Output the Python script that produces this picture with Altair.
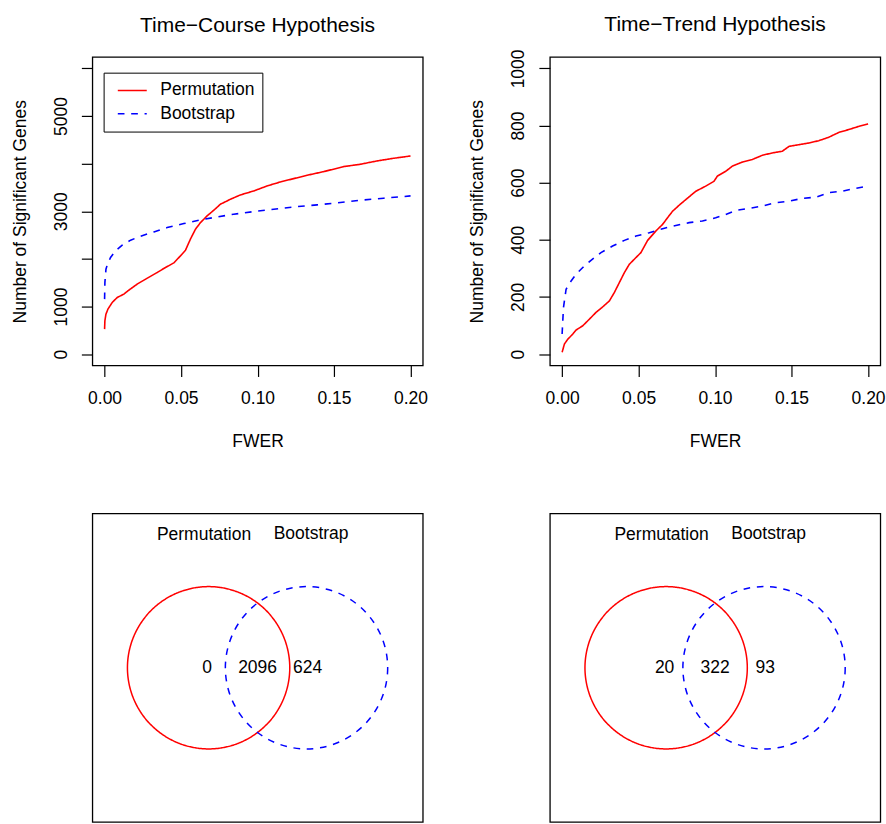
import altair as alt
import pandas as pd

FONT = "Liberation Sans"
SERIES = ["Permutation", "Bootstrap"]
COLORS = ["#FF0000", "#0000FF"]
DASHES = [[1, 0], [6.7, 6.7]]

# ---- Time-Course Hypothesis (left) ----
tc_perm_fwer = [0, 0.0002, 0.0009, 0.0022, 0.005, 0.0083, 0.0126, 0.0159, 0.0213, 0.0279,
                0.0344, 0.0387, 0.0453, 0.0496, 0.0529, 0.0561, 0.0594, 0.0627, 0.067, 0.0714,
                0.0757, 0.0823, 0.0888, 0.0975, 0.1062, 0.1149, 0.1236, 0.1323, 0.1432, 0.1562,
                0.1671, 0.178, 0.1889, 0.2]
tc_perm_genes = [524, 699, 839, 944, 1084, 1189, 1259, 1343, 1469, 1594,
                 1713, 1797, 1916, 2063, 2182, 2413, 2622, 2762, 2902, 3021,
                 3147, 3252, 3343, 3426, 3531, 3615, 3685, 3755, 3832, 3937,
                 3986, 4056, 4112, 4161]
tc_boot_fwer = [0, 0.0002, 0.0009, 0.0018, 0.0039, 0.0072, 0.0115, 0.017, 0.0235, 0.0322,
                0.0409, 0.0518, 0.0627, 0.0736, 0.0844, 0.0975, 0.1106, 0.1236, 0.1389, 0.1541,
                0.1671, 0.1824, 0.2]
tc_boot_genes = [1154, 1500, 1783, 1880, 2028, 2168, 2287, 2392, 2475, 2566,
                 2657, 2741, 2818, 2881, 2937, 2993, 3042, 3091, 3133, 3182,
                 3231, 3273, 3322]

# ---- Time-Trend Hypothesis (right) ----
tt_perm_fwer = [0, 0.0015, 0.0037, 0.007, 0.0091, 0.0135, 0.0178, 0.0222, 0.0265, 0.0309,
                0.0341, 0.0374, 0.0407, 0.0439, 0.0483, 0.0515, 0.0559, 0.0613, 0.0657, 0.0689,
                0.0722, 0.0765, 0.0809, 0.0874, 0.0939, 0.0993, 0.1015, 0.107, 0.1113, 0.1178,
                0.1243, 0.1309, 0.1374, 0.1439, 0.1483, 0.1548, 0.1613, 0.1678, 0.1743, 0.1809,
                0.1874, 0.1939, 0.2]
tt_perm_genes = [6, 35, 52, 70, 84, 99, 122, 146, 165, 186,
                 215, 250, 285, 314, 338, 355, 398, 431, 454, 477,
                 500, 521, 541, 570, 588, 605, 623, 640, 658, 672,
                 681, 696, 704, 710, 727, 733, 739, 747, 759, 776,
                 786, 797, 806]
tt_boot_fwer = [0, 0.0009, 0.0026, 0.0059, 0.0091, 0.0135, 0.0189, 0.0254, 0.033, 0.0407,
                0.0483, 0.057, 0.0657, 0.0743, 0.083, 0.0917, 0.1004, 0.107, 0.1135, 0.1222,
                0.1309, 0.1396, 0.1483, 0.157, 0.1657, 0.1743, 0.183, 0.1917, 0.2]
tt_boot_genes = [70, 163, 227, 256, 279, 303, 328, 355, 378, 398,
                 413, 425, 439, 450, 460, 466, 477, 489, 503, 510,
                 518, 530, 535, 545, 549, 565, 570, 580, 588]

x_ticks = [0, 0.05, 0.10, 0.15, 0.20]
tc_y_ticks = [0, 1000, 2000, 3000, 4000, 5000, 6000]
tc_hidden_labels = [2000, 4000, 6000]
tt_y_ticks = [0, 200, 400, 600, 800, 1000]

# ---- Venn diagrams ----
venn_circle_x = [-1.28, 1.28]
venn_circle_y = [0, 0]
venn_label_x = [-1.40, 1.40]
venn_label_y = [3.71, 3.75]
venn_count_x = [-1.32, 0.0, 1.31]
venn_count_y = [0, 0, 0]
tc_counts = ["0", "2096", "624"]
tt_counts = ["20", "322", "93"]


def long_df(px, py, bx, by):
    return pd.concat([
        pd.DataFrame({"fwer": px, "genes": py, "method": "Permutation"}),
        pd.DataFrame({"fwer": bx, "genes": by, "method": "Bootstrap"}),
    ], ignore_index=True)


def title_params(text, offset):
    return alt.TitleParams(text=text, font=FONT, fontSize=21, fontWeight="normal",
                           color="black", anchor="middle", frame="group",
                           baseline="alphabetic", offset=offset)


def curve_panel(df, title, ydom, yticks, hidden, show_legend, title_offset):
    if show_legend:
        leg = alt.Legend(orient="none", legendX=11.3, legendY=15.7, title=None,
                         symbolType="stroke", symbolSize=841, symbolStrokeWidth=1.5,
                         labelFont=FONT, labelFontSize=17.5, labelColor="black",
                         padding=7, strokeColor="black", fillColor="white",
                         labelOffset=12.5, symbolOffset=6.2, rowPadding=1.3,
                         clipHeight=21.5)
    else:
        leg = None
    if hidden:
        lab_expr = "indexof(" + str(hidden) + ", datum.value) >= 0 ? '' : datum.label"
    else:
        lab_expr = "datum.label"
    x = alt.X("fwer:Q",
              scale=alt.Scale(domain=[-0.008, 0.208], nice=False, zero=False),
              axis=alt.Axis(values=x_ticks, format=".2f", title="FWER",
                            labelBaseline="alphabetic", labelAlign="center",
                            labelPadding=27.3, minExtent=42, maxExtent=42,
                            titlePadding=39, titleBaseline="alphabetic"))
    y = alt.Y("genes:Q",
              scale=alt.Scale(domain=ydom, nice=False, zero=False),
              axis=alt.Axis(values=yticks, format="d", title="Number of Significant Genes",
                            labelExpr=lab_expr, labelAngle=270, labelAlign="center",
                            labelBaseline="alphabetic", labelPadding=15,
                            minExtent=40, maxExtent=40, titlePadding=27,
                            titleBaseline="alphabetic"))
    color = alt.Color("method:N", scale=alt.Scale(domain=SERIES, range=COLORS),
                      sort=SERIES, legend=leg)
    dash = alt.StrokeDash("method:N", scale=alt.Scale(domain=SERIES, range=DASHES),
                          sort=SERIES, legend=leg)
    return alt.Chart(df).mark_line(strokeWidth=1.6).encode(
        x=x, y=y, color=color, strokeDash=dash
    ).properties(width=331, height=309, title=title_params(title, title_offset))


def venn_panel(counts):
    circ = pd.DataFrame({"set": SERIES, "cx": venn_circle_x, "cy": venn_circle_y})
    lab = pd.DataFrame({"set": SERIES, "lx": venn_label_x, "ly": venn_label_y})
    cnt = pd.DataFrame({"nx": venn_count_x, "ny": venn_count_y, "n": counts})
    xs = alt.Scale(domain=[-4.32, 4.32], nice=False, zero=False)
    ys = alt.Scale(domain=[-4.32, 4.32], nice=False, zero=False)
    circles = alt.Chart(circ).mark_point(shape="circle", filled=False, size=26440,
                                         strokeWidth=1.5, opacity=1).encode(
        x=alt.X("cx:Q", scale=xs, axis=None),
        y=alt.Y("cy:Q", scale=ys, axis=None),
        color=alt.Color("set:N", scale=alt.Scale(domain=SERIES, range=COLORS), legend=None),
        strokeDash=alt.StrokeDash("set:N", scale=alt.Scale(domain=SERIES, range=DASHES),
                                  legend=None),
    )
    labels = alt.Chart(lab).mark_text(font=FONT, fontSize=17.5, color="black",
                                      baseline="middle", align="center").encode(
        x=alt.X("lx:Q", scale=xs, axis=None),
        y=alt.Y("ly:Q", scale=ys, axis=None),
        text="set:N",
    )
    nums = alt.Chart(cnt).mark_text(font=FONT, fontSize=17.5, color="black",
                                    baseline="middle", align="center").encode(
        x=alt.X("nx:Q", scale=xs, axis=None),
        y=alt.Y("ny:Q", scale=ys, axis=None),
        text="n:N",
    )
    return alt.layer(circles, labels, nums).properties(width=331, height=309)


tl = curve_panel(long_df(tc_perm_fwer, tc_perm_genes, tc_boot_fwer, tc_boot_genes),
                 "Time\u2212Course Hypothesis", [-240, 6240], tc_y_ticks, tc_hidden_labels,
                 True, 4.5)
tr = curve_panel(long_df(tt_perm_fwer, tt_perm_genes, tt_boot_fwer, tt_boot_genes),
                 "Time\u2212Trend Hypothesis", [-40, 1040], tt_y_ticks, [],
                 False, -3.3)
bl = venn_panel(tc_counts)
br = venn_panel(tt_counts)

chart = alt.concat(tl, tr, bl, br, columns=2,
                   spacing={"row": 148.3, "column": 127.3}).properties(
    bounds="flush",
    padding={"left": 10.5, "top": 12.4, "right": 0, "bottom": 0},
    background="white",
).resolve_scale(
    color="independent", strokeDash="independent"
).resolve_legend(
    color="independent", strokeDash="independent"
).configure_view(
    stroke="black", strokeWidth=1.3
).configure_axis(
    grid=False, domain=False, ticks=True, tickSize=11, tickColor="black", tickWidth=1.2,
    labelFont=FONT, labelFontSize=17.5, labelColor="black",
    titleFont=FONT, titleFontSize=17.5, titleFontWeight="normal", titleColor="black",
    labelFlush=False, labelOverlap=False, labelBound=False,
)

chart.save("out.html", embed_options={"renderer": "svg", "actions": False})
